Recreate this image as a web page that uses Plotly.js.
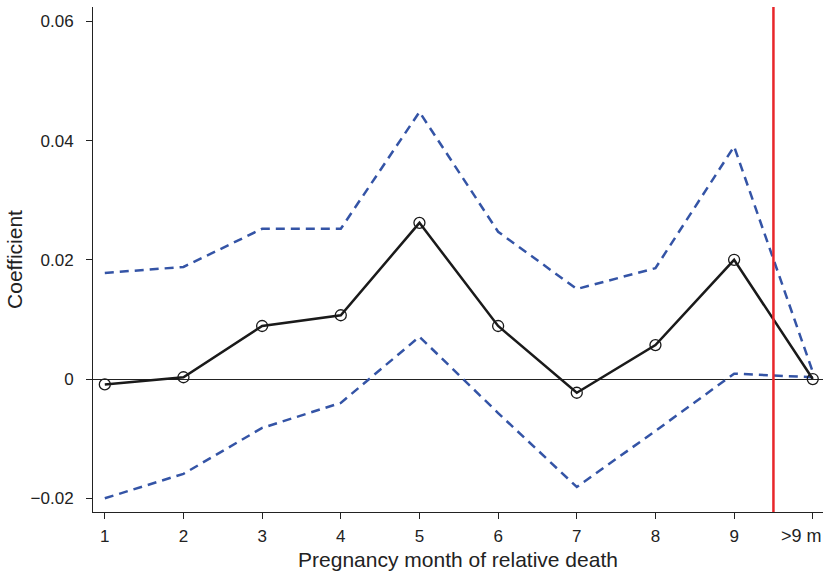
<!DOCTYPE html>
<html>
<head>
<meta charset="utf-8">
<script src="https://cdn.plot.ly/plotly-3.0.1.min.js"></script>
<style>html,body{margin:0;padding:0;background:#fff;}#chart{width:827px;height:579px;}</style>
</head>
<body>
<div id="chart"></div>
<script>
var months = [1, 2, 3, 4, 5, 6, 7, 8, 9, 10];
var monthLabels = ["1", "2", "3", "4", "5", "6", "7", "8", "9", ">9 m"];
var coef = [-0.0009, 0.0003, 0.0089, 0.0107, 0.0262, 0.0089, -0.0023, 0.0057, 0.0200, 0.0000];
var upperCI = [0.0178, 0.0188, 0.0252, 0.0252, 0.0448, 0.0247, 0.0151, 0.0186, 0.0390, 0.0012];
var lowerCI = [-0.0200, -0.0159, -0.0082, -0.0040, 0.0071, -0.0057, -0.0181, -0.0087, 0.0009, 0.0003];
var yTickVals = [-0.02, 0, 0.02, 0.04, 0.06];
var yTickText = ["\u22120.02", "0", "0.02", "0.04", "0.06"];
var cutoff = 9.5;

var blue = "rgb(52,84,166)";
var traces = [
  {x: months, y: upperCI, mode: "lines", line: {color: blue, width: 2.5, dash: "9px,6px"}, hoverinfo: "skip"},
  {x: months, y: lowerCI, mode: "lines", line: {color: blue, width: 2.5, dash: "9px,6px"}, hoverinfo: "skip"},
  {x: months, y: coef, mode: "lines+markers", line: {color: "#1a1a1a", width: 2.5},
   marker: {symbol: "circle-open", size: 11, color: "#1a1a1a", line: {width: 1.3, color: "#1a1a1a"}}}
];

// tick text for all but the last month; the last label is shifted left as in the source
var xTickText = monthLabels.slice(0, months.length - 1).concat([""]);

var layout = {
  width: 827, height: 579,
  margin: {l: 93, r: 4, t: 7, b: 67},
  paper_bgcolor: "#fff", plot_bgcolor: "#fff",
  showlegend: false,
  font: {family: "Liberation Sans, Arial, sans-serif", color: "#222", size: 17},
  xaxis: {
    range: [0.85, 10.13], tickvals: months, ticktext: xTickText,
    showgrid: false, zeroline: false, showline: true, linecolor: "#222", linewidth: 1,
    ticks: "outside", ticklen: 6, tickcolor: "#222", tickfont: {size: 17},
    ticklabelstandoff: 3,
    title: {text: "Pregnancy month of relative death", font: {size: 21}, standoff: 6}
  },
  yaxis: {
    range: [-0.0223, 0.0624], tickvals: yTickVals, ticktext: yTickText,
    showgrid: false, zeroline: true, zerolinecolor: "#222", zerolinewidth: 1,
    showline: true, linecolor: "#222", linewidth: 1,
    ticks: "outside", ticklen: 6, tickcolor: "#222", tickfont: {size: 17},
    ticklabelstandoff: 9,
    title: {text: "Coefficient", font: {size: 21}, standoff: 2}
  },
  annotations: [
    {x: months[months.length - 1], xref: "x", y: 0, yref: "paper", text: monthLabels[monthLabels.length - 1],
     showarrow: false, xanchor: "right", yanchor: "top", xshift: 11, yshift: -12,
     font: {size: 18, color: "#222"}}
  ],
  shapes: [
    {type: "line", xref: "x", yref: "paper", x0: cutoff, x1: cutoff, y0: 0, y1: 1,
     line: {color: "rgb(232,38,42)", width: 2.5}}
  ]
};
Plotly.newPlot("chart", traces, layout, {staticPlot: true});
</script>
</body>
</html>
